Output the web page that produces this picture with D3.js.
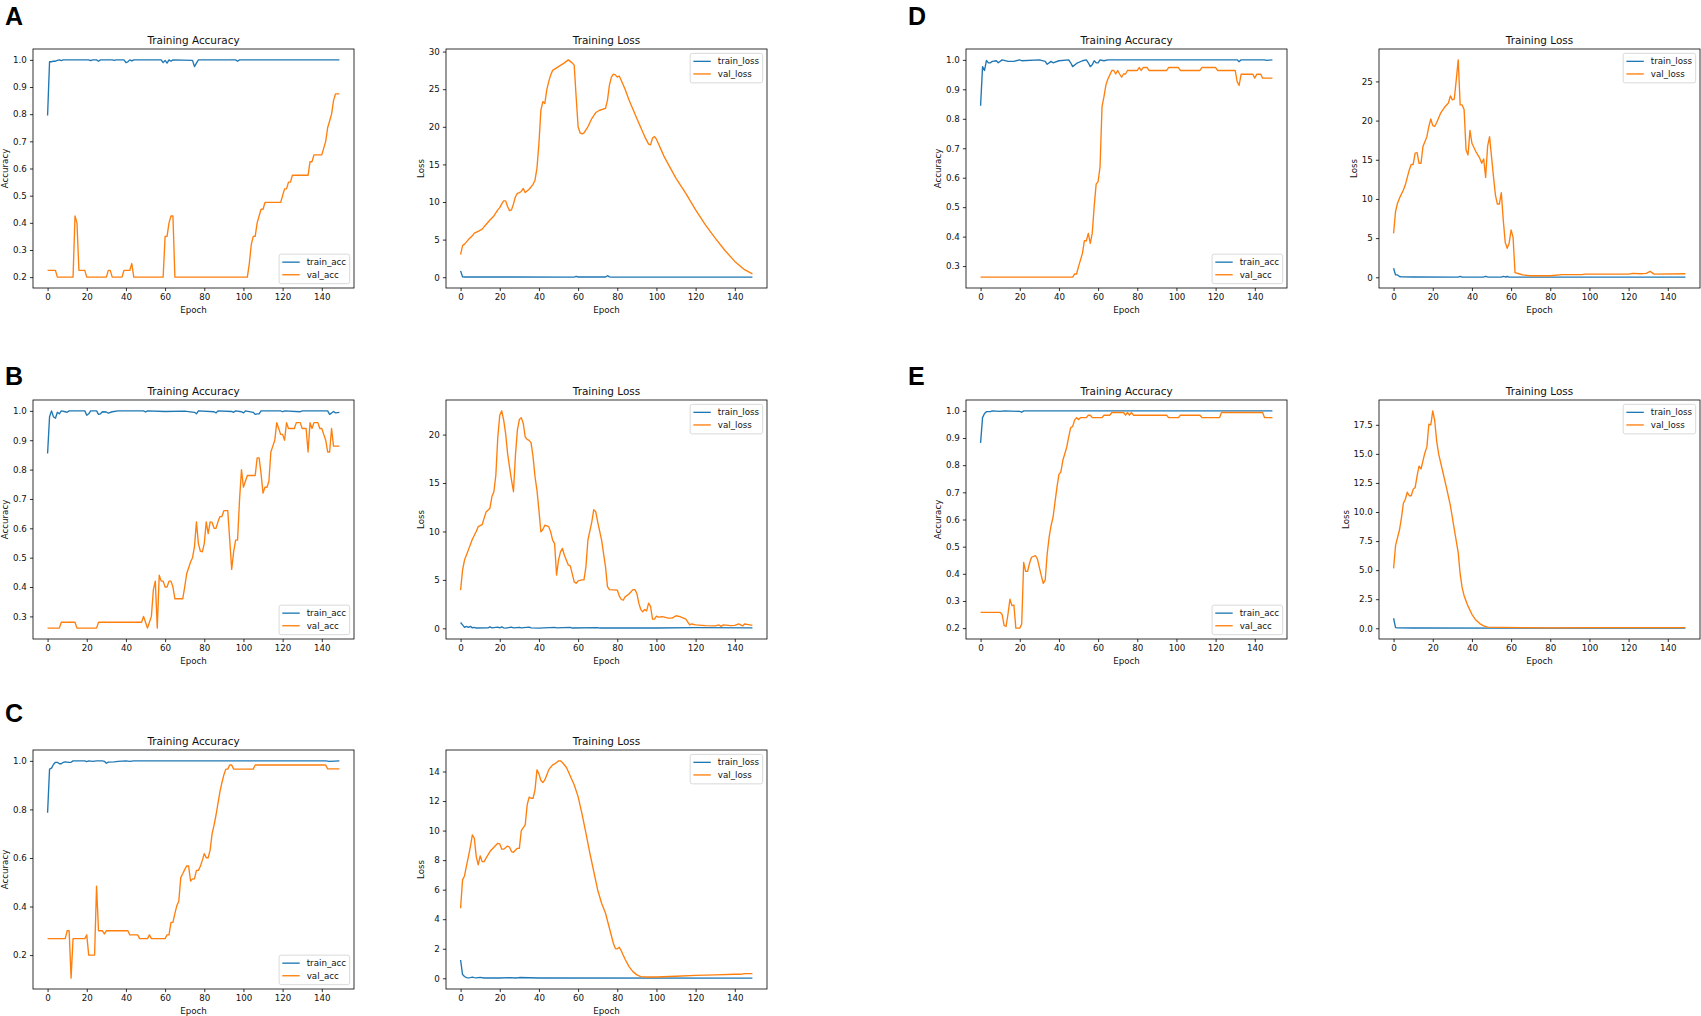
<!DOCTYPE html>
<html>
<head>
<meta charset="utf-8">
<script src="https://cdn.jsdelivr.net/npm/d3@7"></script>
<style>
  body { margin: 0; background: #fff; }
  svg { display: block; font-family: "DejaVu Sans", sans-serif; }
</style>
</head>
<body>
<script>
// ---- data: [epoch, value] pairs ----
const epochTicks = [0, 20, 40, 60, 80, 100, 120, 140];

const aTrainAcc = [[0,0.795],[1,0.993],[2,0.993],[3,0.995],[4,0.995],[5,0.998],[6,1.0],[7,0.997],[8,1.0],[21,1.0],[22,0.997],[23,1.0],[25,1.0],[26,0.995],[27,1.0],[33,1.0],[34,0.998],[35,1.0],[39,1.0],[40,0.99],[41,0.993],[42,1.0],[43,0.996],[44,1.0],[58,1.0],[59,0.99],[60,0.998],[61,0.988],[62,1.0],[63,0.995],[64,1.0],[74,0.998],[75,0.975],[76,0.988],[77,1.0],[96,1.0],[97,0.995],[98,1.0],[149,1.0]];
const aValAcc = [[0,0.225],[4,0.225],[5,0.2],[13,0.2],[14,0.425],[15,0.4],[16,0.225],[19,0.225],[20,0.2],[30,0.2],[31,0.225],[32,0.225],[33,0.2],[38,0.2],[39,0.225],[42,0.225],[43,0.25],[44,0.2],[59,0.2],[60,0.35],[61,0.35],[62,0.4],[63,0.425],[64,0.425],[65,0.2],[102,0.2],[103,0.25],[104,0.32],[105,0.35],[106,0.35],[107,0.4],[108,0.425],[109,0.45],[110,0.45],[111,0.475],[119,0.475],[120,0.5],[121,0.525],[122,0.525],[123,0.55],[124,0.55],[125,0.575],[133,0.575],[134,0.625],[135,0.625],[136,0.65],[140,0.65],[141,0.675],[142,0.7],[143,0.75],[144,0.775],[145,0.8],[146,0.85],[147,0.875],[149,0.875]];
const aTrainLoss = [[0,0.84],[1,0.05],[2,0.03],[58,0.02],[59,0.1],[60,0.03],[74,0.03],[75,0.2],[76,0.05],[77,0.02],[149,0.01]];
const aValLoss = [[0,3.0],[1,4.2],[2,4.4],[4,5.0],[6,5.5],[7,5.85],[9,6.1],[11,6.4],[13,7.0],[15,7.6],[17,8.15],[19,8.95],[20,9.25],[21,9.75],[22,10.15],[23,10.15],[24,9.4],[25,8.85],[26,8.95],[27,9.75],[28,10.7],[29,11.15],[30,11.25],[31,11.4],[32,11.8],[33,11.25],[35,11.7],[37,12.35],[38,12.9],[39,14.5],[40,17.8],[41,22.2],[42,23.35],[43,23.1],[44,24.9],[45,26.0],[46,26.9],[47,27.5],[50,28.0],[53,28.5],[55,28.9],[57,28.5],[58,28.2],[59,24.0],[60,20.0],[61,19.2],[62,19.05],[63,19.2],[65,20.0],[67,21.1],[69,21.9],[71,22.2],[74,22.45],[75,23.55],[76,25.55],[77,26.6],[78,27.0],[79,26.9],[80,26.6],[81,26.75],[82,26.2],[84,25.0],[86,23.55],[90,21.1],[94,18.7],[96,17.7],[97,17.6],[98,18.5],[99,18.7],[100,18.35],[104,16.0],[110,13.15],[115,11.15],[120,8.95],[125,6.95],[130,5.2],[135,3.55],[140,2.1],[145,1.0],[149,0.45]];

const bTrainAcc = [[0,0.855],[1,0.98],[2,1.0],[3,0.98],[4,0.975],[5,0.995],[6,0.99],[7,1.0],[9,0.997],[10,0.995],[11,1.0],[19,1.0],[20,0.985],[21,0.99],[22,1.0],[25,1.0],[26,0.988],[27,0.99],[28,0.997],[30,0.996],[31,0.992],[33,0.997],[36,1.0],[49,1.0],[50,0.996],[51,1.0],[60,0.998],[70,0.999],[75,0.995],[76,0.99],[77,1.0],[85,0.997],[86,0.993],[87,1.0],[94,0.998],[95,0.995],[96,1.0],[99,0.997],[100,0.993],[101,1.0],[105,0.995],[106,0.988],[107,0.99],[108,0.99],[109,1.0],[119,1.0],[120,0.997],[121,1.0],[129,0.997],[130,1.0],[143,1.0],[144,0.988],[145,0.993],[146,0.998],[147,0.993],[149,0.995]];
const bValAcc = [[0,0.26],[6,0.26],[7,0.28],[14,0.28],[15,0.26],[25,0.26],[26,0.28],[48,0.28],[49,0.3],[50,0.28],[51,0.26],[52,0.28],[53,0.3],[54,0.39],[55,0.42],[56,0.26],[57,0.44],[58,0.42],[59,0.42],[60,0.4],[61,0.4],[62,0.42],[63,0.42],[64,0.4],[65,0.36],[69,0.36],[70,0.4],[71,0.445],[72,0.465],[73,0.485],[74,0.5],[75,0.537],[76,0.622],[77,0.548],[78,0.522],[79,0.52],[80,0.548],[81,0.622],[82,0.582],[83,0.622],[84,0.62],[85,0.6],[86,0.6],[87,0.622],[88,0.64],[89,0.64],[90,0.66],[92,0.66],[93,0.56],[94,0.46],[95,0.52],[96,0.56],[97,0.56],[98,0.696],[99,0.8],[100,0.74],[101,0.76],[102,0.78],[106,0.78],[107,0.84],[108,0.84],[109,0.786],[110,0.72],[111,0.74],[112,0.74],[113,0.76],[114,0.86],[115,0.88],[116,0.9],[117,0.96],[118,0.94],[119,0.92],[120,0.92],[121,0.9],[122,0.96],[123,0.94],[126,0.94],[127,0.96],[129,0.96],[130,0.94],[132,0.94],[133,0.86],[134,0.96],[135,0.94],[136,0.96],[138,0.96],[139,0.94],[140,0.94],[141,0.92],[142,0.9],[143,0.86],[144,0.86],[145,0.94],[146,0.88],[149,0.88]];
const bTrainLoss = [[0,0.6],[1,0.35],[2,0.1],[3,0.2],[4,0.1],[5,0.2],[6,0.05],[7,0.1],[8,0.03],[14,0.05],[15,0.15],[16,0.05],[19,0.12],[20,0.05],[21,0.15],[22,0.05],[23,0.02],[26,0.12],[27,0.05],[30,0.1],[31,0.05],[35,0.12],[36,0.04],[40,0.02],[48,0.1],[49,0.04],[56,0.1],[57,0.03],[70,0.08],[71,0.03],[100,0.03],[120,0.07],[149,0.05]];
const bValLoss = [[0,3.95],[1,6.0],[2,7.05],[4,8.1],[6,9.2],[8,10.0],[9,10.5],[11,10.7],[12,11.35],[13,12.0],[15,12.4],[16,13.6],[17,14.1],[18,15.8],[19,19.75],[20,22.0],[21,22.45],[22,21.5],[23,20.1],[24,18.05],[25,16.65],[26,15.3],[27,14.1],[28,17.85],[29,20.45],[30,21.55],[31,21.75],[32,21.15],[33,19.75],[34,19.5],[35,19.4],[36,19.15],[37,17.7],[38,15.65],[39,14.25],[40,12.2],[41,9.95],[42,10.2],[43,10.65],[45,10.5],[46,9.95],[47,9.1],[48,8.75],[49,5.5],[50,7.05],[51,7.9],[52,8.25],[53,7.55],[55,6.55],[56,6.45],[57,5.65],[58,4.8],[59,4.65],[60,4.9],[62,5.0],[63,5.0],[64,6.35],[65,9.1],[67,11.0],[68,12.25],[69,12.05],[70,11.0],[72,9.1],[74,6.35],[75,4.3],[76,4.0],[80,3.95],[81,3.35],[82,3.0],[83,2.9],[84,3.25],[86,3.55],[88,4.0],[89,4.0],[90,3.6],[91,2.6],[92,1.95],[93,1.7],[94,1.95],[95,1.8],[96,2.6],[97,2.25],[98,0.95],[99,0.95],[100,1.25],[101,1.15],[103,1.2],[106,1.05],[108,1.05],[110,1.3],[112,1.2],[115,0.95],[117,0.35],[118,0.45],[120,0.35],[125,0.28],[130,0.25],[132,0.35],[133,0.2],[134,0.35],[138,0.28],[140,0.3],[142,0.45],[144,0.25],[145,0.45],[147,0.38],[149,0.3]];

const cTrainAcc = [[0,0.786],[1,0.966],[2,0.97],[3,0.985],[4,0.994],[5,0.994],[6,0.988],[7,0.988],[8,0.994],[9,0.996],[11,0.994],[12,0.994],[13,1.0],[19,1.0],[20,0.997],[21,1.0],[23,0.998],[25,1.0],[28,1.0],[29,0.998],[30,0.99],[31,0.995],[34,0.996],[36,0.998],[40,1.0],[42,0.998],[44,1.0],[142,1.0],[144,0.998],[149,1.0]];
const cValAcc = [[0,0.268],[9,0.268],[10,0.3],[11,0.3],[12,0.105],[13,0.268],[19,0.268],[20,0.283],[21,0.2],[24,0.2],[25,0.484],[26,0.3],[28,0.3],[29,0.287],[30,0.3],[41,0.3],[42,0.283],[46,0.283],[47,0.268],[51,0.268],[52,0.283],[53,0.268],[60,0.268],[61,0.283],[62,0.283],[63,0.335],[64,0.335],[65,0.372],[66,0.404],[67,0.422],[68,0.519],[69,0.535],[70,0.552],[71,0.567],[72,0.567],[73,0.505],[74,0.514],[75,0.514],[76,0.549],[77,0.549],[78,0.566],[79,0.59],[80,0.618],[81,0.601],[82,0.601],[83,0.632],[84,0.7],[85,0.735],[86,0.777],[87,0.825],[88,0.873],[89,0.91],[90,0.942],[91,0.966],[92,0.966],[93,0.983],[94,0.983],[95,0.966],[105,0.966],[106,0.983],[142,0.983],[143,0.967],[149,0.967]];
const cTrainLoss = [[0,1.24],[1,0.25],[2,0.12],[3,0.05],[4,0.03],[5,0.05],[6,0.08],[7,0.05],[8,0.03],[10,0.06],[12,0.02],[20,0.02],[25,0.04],[28,0.02],[30,0.05],[40,0.02],[149,0.01]];
const cValLoss = [[0,4.74],[1,6.66],[2,6.93],[3,7.61],[4,8.24],[5,8.92],[6,9.71],[7,9.48],[8,8.24],[9,7.68],[10,8.29],[11,7.9],[12,7.9],[13,8.13],[15,8.58],[17,8.87],[19,9.14],[20,9.1],[21,8.74],[22,8.74],[24,8.96],[25,8.87],[26,8.58],[27,8.53],[29,8.8],[30,8.8],[31,10.0],[33,10.39],[34,11.74],[35,12.26],[36,12.19],[37,12.19],[38,12.76],[39,14.11],[40,13.84],[41,13.39],[42,13.25],[43,13.43],[44,13.77],[45,14.11],[46,14.29],[47,14.45],[48,14.52],[49,14.61],[50,14.72],[51,14.72],[52,14.61],[54,14.29],[56,13.7],[58,13.1],[60,12.3],[62,11.13],[64,9.82],[66,8.47],[68,7.23],[70,5.98],[72,5.08],[74,4.4],[76,3.39],[78,2.37],[79,2.01],[80,1.99],[81,2.1],[82,1.87],[84,1.29],[86,0.79],[88,0.45],[90,0.23],[92,0.11],[95,0.09],[100,0.09],[110,0.14],[120,0.2],[130,0.23],[140,0.27],[143,0.27],[145,0.32],[149,0.32]];

const dTrainAcc = [[0,0.844],[1,0.977],[2,0.964],[3,0.998],[4,0.99],[5,0.99],[6,0.995],[8,0.997],[9,0.99],[11,1.0],[14,0.995],[17,0.995],[20,1.0],[21,0.997],[30,1.0],[33,0.995],[34,0.985],[36,0.995],[37,0.99],[40,0.997],[45,1.0],[46,0.99],[47,0.977],[49,0.988],[52,0.997],[54,1.0],[55,0.99],[56,0.977],[57,0.983],[58,0.997],[59,0.99],[60,0.99],[61,1.0],[63,0.997],[65,1.0],[131,1.0],[132,0.994],[133,1.0],[145,1.0],[146,0.998],[149,1.0]];
const dValAcc = [[0,0.2625],[47,0.2625],[48,0.273],[49,0.273],[50,0.298],[52,0.343],[53,0.386],[54,0.386],[55,0.411],[56,0.377],[57,0.411],[58,0.502],[59,0.578],[60,0.587],[61,0.637],[62,0.841],[63,0.875],[64,0.915],[65,0.935],[66,0.949],[67,0.964],[68,0.964],[69,0.952],[70,0.964],[71,0.952],[72,0.941],[73,0.952],[74,0.952],[75,0.964],[80,0.964],[81,0.974],[82,0.964],[83,0.974],[85,0.974],[86,0.964],[95,0.964],[96,0.974],[101,0.974],[102,0.964],[112,0.964],[113,0.974],[120,0.974],[121,0.964],[130,0.964],[131,0.926],[132,0.913],[133,0.951],[139,0.951],[140,0.938],[141,0.951],[143,0.951],[144,0.938],[149,0.938]];
const dTrainLoss = [[0,1.15],[1,0.3],[2,0.3],[3,0.1],[4,0.05],[10,0.04],[33,0.03],[34,0.12],[35,0.03],[46,0.04],[47,0.12],[48,0.04],[55,0.03],[56,0.12],[57,0.04],[58,0.1],[59,0.03],[149,0.02]];
const dValLoss = [[0,5.6],[1,8.4],[2,9.45],[3,10.1],[5,11.15],[6,11.8],[8,13.7],[9,14.4],[10,14.4],[11,15.85],[12,15.9],[13,14.55],[14,14.55],[15,16.7],[17,17.95],[18,19.25],[19,20.2],[20,19.35],[21,19.25],[22,19.75],[24,20.95],[26,21.7],[28,22.25],[29,23.15],[30,22.65],[31,22.75],[32,25.2],[33,27.75],[34,22.0],[35,22.0],[36,21.4],[37,16.25],[38,15.6],[39,18.75],[40,17.1],[42,16.05],[44,15.2],[45,14.55],[46,15.1],[47,12.75],[48,16.7],[49,17.95],[50,15.4],[51,12.85],[52,10.5],[53,9.35],[54,9.35],[55,10.8],[56,7.3],[57,4.45],[58,3.7],[59,4.35],[60,6.05],[61,5.1],[62,0.6],[64,0.45],[66,0.3],[70,0.2],[80,0.2],[86,0.35],[96,0.35],[98,0.4],[110,0.4],[120,0.4],[122,0.5],[126,0.45],[129,0.5],[131,0.75],[133,0.4],[149,0.45]];

const eTrainAcc = [[0,0.882],[1,0.975],[2,0.99],[3,0.997],[5,0.997],[6,1.0],[10,0.998],[12,1.0],[20,0.998],[21,0.995],[22,1.0],[149,1.0]];
const eValAcc = [[0,0.258],[10,0.258],[11,0.25],[12,0.21],[13,0.206],[14,0.252],[15,0.307],[16,0.283],[17,0.285],[18,0.2],[20,0.2],[21,0.215],[22,0.442],[23,0.409],[24,0.409],[25,0.439],[26,0.461],[28,0.467],[29,0.455],[30,0.424],[31,0.393],[32,0.365],[33,0.377],[34,0.473],[35,0.535],[36,0.578],[37,0.609],[38,0.664],[39,0.719],[40,0.766],[41,0.775],[42,0.818],[43,0.842],[44,0.867],[45,0.904],[46,0.938],[47,0.943],[48,0.966],[49,0.975],[50,0.968],[51,0.975],[54,0.975],[55,0.984],[56,0.984],[57,0.975],[62,0.975],[63,0.984],[66,0.984],[67,0.994],[73,0.994],[74,0.984],[75,0.994],[76,0.984],[77,0.994],[78,0.984],[95,0.984],[96,0.975],[101,0.975],[102,0.984],[112,0.984],[113,0.975],[122,0.975],[123,0.994],[144,0.994],[145,0.975],[149,0.975]];
const eTrainLoss = [[0,0.86],[1,0.05],[2,0.03],[10,0.02],[149,0.01]];
const eValLoss = [[0,5.15],[1,7.1],[2,7.8],[3,8.45],[4,9.5],[5,10.75],[6,11.1],[7,11.7],[8,11.4],[9,11.4],[10,11.95],[11,12.1],[12,13.1],[13,13.95],[14,13.7],[15,14.4],[16,15.1],[17,15.6],[18,17.55],[19,17.5],[20,18.7],[21,17.85],[22,16.1],[23,15.0],[25,13.55],[27,12.1],[29,10.55],[31,8.5],[33,6.5],[34,4.65],[35,3.5],[36,2.8],[38,1.9],[40,1.2],[42,0.7],[44,0.4],[46,0.2],[48,0.1],[55,0.08],[65,0.06],[80,0.03],[100,0.05],[120,0.06],[149,0.05]];

// tick labels per panel
const accTicksA = [0.2, 0.3, 0.4, 0.5, 0.6, 0.7, 0.8, 0.9, 1.0];
const accTicksB = [0.3, 0.4, 0.5, 0.6, 0.7, 0.8, 0.9, 1.0];
const accTicksC = [0.2, 0.4, 0.6, 0.8, 1.0];
const accTicksD = [0.3, 0.4, 0.5, 0.6, 0.7, 0.8, 0.9, 1.0];
const accTicksE = [0.2, 0.3, 0.4, 0.5, 0.6, 0.7, 0.8, 0.9, 1.0];
const lossTicksA = [0, 5, 10, 15, 20, 25, 30];
const lossTicksB = [0, 5, 10, 15, 20];
const lossTicksC = [0, 2, 4, 6, 8, 10, 12, 14];
const lossTicksD = [0, 5, 10, 15, 20, 25];
const lossTicksE = [0, 2.5, 5, 7.5, 10, 12.5, 15, 17.5];

// ---- layout ----
const width = 1701, height = 1016;
const colLeft = [33, 446, 966, 1379];
const rowTop = [49, 400, 750];
const plotW = 321, plotH = 239;
const fs = 8.7;            // tick / label / legend font size
const titleFs = 10.45;
const tick = 3.1, tickPad = 3.1;
const colors = ["#1f77b4", "#ff7f0e"];

const panels = [
  { letter: "A", row: 0, block: 0, lx: 5, ly: 25, acc: [aTrainAcc, aValAcc], loss: [aTrainLoss, aValLoss], accTicks: accTicksA, lossTicks: lossTicksA, lossFmt: "d" },
  { letter: "B", row: 1, block: 0, lx: 5, ly: 385, acc: [bTrainAcc, bValAcc], loss: [bTrainLoss, bValLoss], accTicks: accTicksB, lossTicks: lossTicksB, lossFmt: "d" },
  { letter: "C", row: 2, block: 0, lx: 5, ly: 722, acc: [cTrainAcc, cValAcc], loss: [cTrainLoss, cValLoss], accTicks: accTicksC, lossTicks: lossTicksC, lossFmt: "d" },
  { letter: "D", row: 0, block: 1, lx: 908, ly: 25, acc: [dTrainAcc, dValAcc], loss: [dTrainLoss, dValLoss], accTicks: accTicksD, lossTicks: lossTicksD, lossFmt: "d" },
  { letter: "E", row: 1, block: 1, lx: 908, ly: 385, acc: [eTrainAcc, eValAcc], loss: [eTrainLoss, eValLoss], accTicks: accTicksE, lossTicks: lossTicksE, lossFmt: ".1f" },
];

const svg = d3.select("body").append("svg")
  .attr("width", width)
  .attr("height", height)
  .attr("viewBox", [0, 0, width, height]);

function plot(left, top, series, labels, yTicks, yFmt, title, yLabel, legendLoc) {
  const g = svg.append("g").attr("transform", `translate(${left},${top})`);
  const all = series.flat();

  // matplotlib-like 5% margins
  const [e0, e1] = d3.extent(all, (d) => d[0]);
  const [v0, v1] = d3.extent(all, (d) => d[1]);
  const ex = (e1 - e0) * 0.05, vy = (v1 - v0) * 0.05;
  const x = d3.scaleLinear().domain([e0 - ex, e1 + ex]).range([0, plotW]);
  const y = d3.scaleLinear().domain([v0 - vy, v1 + vy]).range([plotH, 0]);

  const line = d3.line().x((d) => x(d[0])).y((d) => y(d[1]));
  g.selectAll("path.series")
    .data(series)
    .join("path")
    .attr("class", "series")
    .attr("fill", "none")
    .attr("stroke", (_, i) => colors[i])
    .attr("stroke-width", 1.35)
    .attr("stroke-linejoin", "round")
    .attr("d", line);

  const xAxis = g.append("g")
    .attr("transform", `translate(0,${plotH})`)
    .call(d3.axisBottom(x).tickValues(epochTicks).tickFormat(d3.format("d")).tickSize(tick).tickPadding(tickPad));
  const yAxis = g.append("g")
    .call(d3.axisLeft(y).tickValues(yTicks).tickFormat(d3.format(yFmt)).tickSize(tick).tickPadding(tickPad));
  for (const a of [xAxis, yAxis]) {
    a.attr("font-size", fs).attr("font-family", null);
    a.select(".domain").remove();
    a.selectAll("line").attr("stroke", "#000").attr("stroke-width", 0.8);
    a.selectAll("text").attr("fill", "#111");
  }

  // frame
  g.append("rect")
    .attr("width", plotW)
    .attr("height", plotH)
    .attr("fill", "none")
    .attr("stroke", "#000")
    .attr("stroke-width", 0.8);

  g.append("text")
    .attr("x", plotW / 2)
    .attr("y", -5.5)
    .attr("text-anchor", "middle")
    .attr("font-size", titleFs)
    .attr("fill", "#111")
    .text(title);

  g.append("text")
    .attr("x", plotW / 2)
    .attr("y", plotH + 25)
    .attr("text-anchor", "middle")
    .attr("font-size", fs)
    .attr("fill", "#111")
    .text("Epoch");

  const maxW = d3.max(yAxis.selectAll("text").nodes(), (n) => n.getComputedTextLength());
  const lx = -(tick + tickPad + maxW + 2.6 + 2.1);
  g.append("text")
    .attr("transform", `translate(${lx},${plotH / 2}) rotate(-90)`)
    .attr("text-anchor", "middle")
    .attr("font-size", fs)
    .attr("fill", "#111")
    .text(yLabel);

  // legend
  const leg = g.append("g");
  const texts = leg.selectAll("text")
    .data(labels)
    .join("text")
    .attr("font-size", fs)
    .attr("fill", "#111")
    .attr("dy", "0.35em")
    .text((d) => d);
  const tw = d3.max(texts.nodes(), (n) => n.getComputedTextLength());
  const boxW = 3.2 + 17.4 + 7 + tw + 3.5, boxH = 29.5;
  const bx = plotW - 4.35 - boxW;
  const by = legendLoc === "lower" ? plotH - 4.35 - boxH : 4.35;
  leg.insert("rect", "text")
    .attr("x", bx).attr("y", by)
    .attr("width", boxW).attr("height", boxH)
    .attr("rx", 2)
    .attr("fill", "#fff").attr("fill-opacity", 0.8)
    .attr("stroke", "#d0d0d0").attr("stroke-width", 0.8);
  texts.attr("x", bx + 3.2 + 17.4 + 7).attr("y", (_, i) => by + 8 + i * 12.6);
  leg.selectAll("line")
    .data(labels)
    .join("line")
    .attr("x1", bx + 3.2).attr("x2", bx + 3.2 + 17.4)
    .attr("y1", (_, i) => by + 8 + i * 12.6).attr("y2", (_, i) => by + 8 + i * 12.6)
    .attr("stroke", (_, i) => colors[i])
    .attr("stroke-width", 1.35);
}

for (const p of panels) {
  const top = rowTop[p.row];
  const c = p.block * 2;
  plot(colLeft[c], top, p.acc, ["train_acc", "val_acc"], p.accTicks, ".1f", "Training Accuracy", "Accuracy", "lower");
  plot(colLeft[c + 1], top, p.loss, ["train_loss", "val_loss"], p.lossTicks, p.lossFmt, "Training Loss", "Loss", "upper");
  svg.append("text")
    .attr("x", p.lx)
    .attr("y", p.ly)
    .attr("font-family", "Liberation Sans, Arial, sans-serif")
    .attr("font-weight", "bold")
    .attr("font-size", 25)
    .attr("fill", "#000")
    .text(p.letter);
}
</script>
</body>
</html>
